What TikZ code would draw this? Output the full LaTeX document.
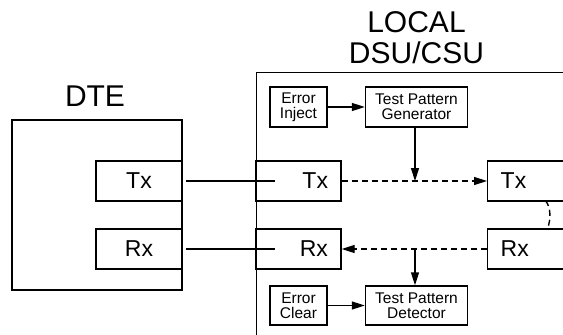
\documentclass[tikz,border=0pt]{standalone}
\usepackage{fontspec}
\setmainfont{Liberation Sans}
\usetikzlibrary{arrows.meta,calc}
\tikzset{
  box/.style={draw, line width=1.4pt, inner sep=0pt},
  port/.style={box, minimum height=40pt, font=\fontsize{23}{26}\selectfont},
  smallbox/.style={box, minimum height=40pt, align=center, font=\fontsize{15.5}{15}\selectfont},
  titletext/.style={font=\fontsize{30}{31}\selectfont, inner sep=0pt},
  wire/.style={line width=1.4pt},
  dashwire/.style={line width=1.4pt, dash pattern=on 6pt off 4pt},
  arr/.style={-{Triangle[length=13pt,width=8pt]}},
}
\begin{document}
\begin{tikzpicture}[x=1pt,y=-1pt]
\useasboundingbox (0,0) rectangle (563,335);
\clip (0,0) rectangle (563,335);
% DTE
\node[box, minimum width=170pt, minimum height=170pt] (dte) at (97,205) {};
\node[titletext, anchor=base] (dtelabel) at (95,106.5) {DTE};
\node[port, minimum width=86pt] (dtetx) at (139,181) {Tx};
\node[port, minimum width=86pt] (dterx) at (139,249) {Rx};
% Local DSU/CSU
\node[box, minimum width=400pt, minimum height=400pt, anchor=north west] (dsu) at (256,72) {};
\node[titletext, anchor=base] (loclabel) at (416.5,32.3) {LOCAL};
\node[titletext, anchor=base] (dsulabel) at (416.5,63.3) {DSU/CSU};
\node[port, minimum width=85pt, text width=59pt, align=right, inner xsep=13pt] (ltx) at (298.5,181) {Tx};
\node[port, minimum width=85pt, text width=59pt, align=right, inner xsep=13pt] (lrx) at (298.5,249) {Rx};
% Remote
\node[port, text width=80pt, align=left, inner xsep=13pt, anchor=west] (rtx) at (487,181) {Tx};
\node[port, text width=80pt, align=left, inner xsep=13pt, anchor=west] (rrx) at (487,249) {Rx};
% Small boxes
\node[smallbox, minimum width=57pt] (einj) at (298.5,107) {Error\\Inject};
\node[smallbox, minimum width=102pt] (tpg) at (416.5,107) {Test Pattern\\Generator};
\node[smallbox, minimum width=57pt, minimum height=39pt] (eclr) at (298.5,305.5) {Error\\Clear};
\node[smallbox, minimum width=102pt, minimum height=39pt] (tpd) at (416.5,305.5) {Test Pattern\\Detector};
% Wires DTE -> local
\coordinate (txend) at (275,181);
\coordinate (rxend) at (275,249);
\draw[wire] ($(dtetx.east)+(3,0)$) -- (txend);
\draw[wire] ($(dterx.east)+(3,0)$) -- (rxend);
% Dashed paths
\draw[dashwire, arr] (ltx.east) -- (rtx.west);
\draw[dashwire, arr] (rrx.west) -- (lrx.east);
% Error arrows
\draw[wire, arr] (einj) -- (tpg);
\draw[wire, arr] (eclr) -- (tpd);
% Taps
\coordinate (j1) at (415,181);
\coordinate (j2) at (415,249);
\draw[wire, arr] (tpg.south -| j1) -- (j1);
\draw[wire, arr] (j2) -- (tpd.north -| j2);
% Loopback
\coordinate (la) at (545.5,200.7);
\coordinate (lb) at (547.5,228.3);
\draw[dashwire] (la) .. controls (551,207) and (551,220) .. (lb);
\end{tikzpicture}
\end{document}
